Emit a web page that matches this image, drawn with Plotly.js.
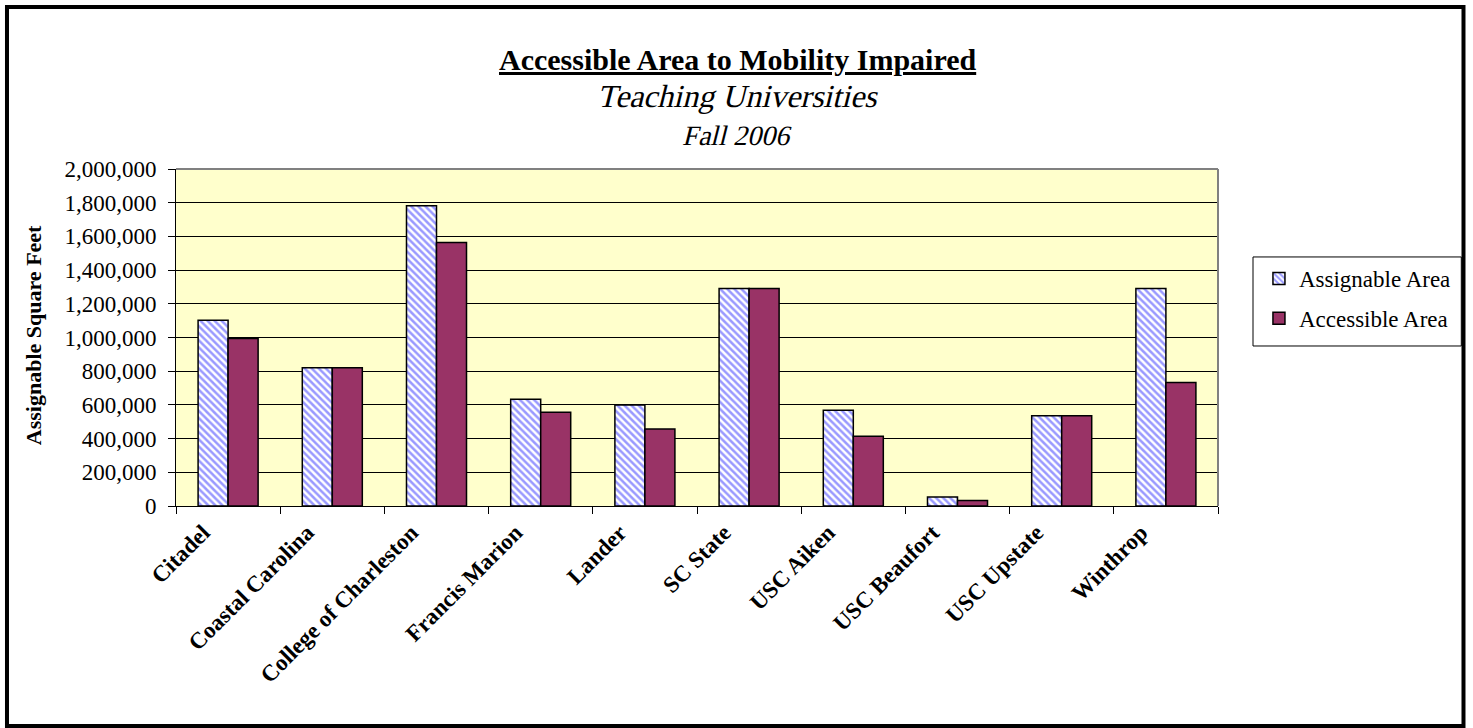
<!DOCTYPE html>
<html>
<head>
<meta charset="utf-8">
<script src="https://cdn.plot.ly/plotly-3.0.1.min.js"></script>
<style>
  @font-face {
    font-family: 'TimesSynth';
    src: local('Liberation Serif'), local('LiberationSerif');
    font-weight: 400;
    font-style: normal;
  }
  html, body { margin: 0; padding: 0; background: #ffffff; }
  #chart { width: 1473px; height: 728px; }
</style>
</head>
<body>
<div id="chart"></div>
<script>
const categories = ['Citadel', 'Coastal Carolina', 'College of Charleston', 'Francis Marion', 'Lander', 'SC State', 'USC Aiken', 'USC Beaufort', 'USC Upstate', 'Winthrop'];
const assignableArea = [1103000, 820000, 1782000, 634000, 600000, 1291000, 568000, 53000, 535000, 1291000];
const accessibleArea = [994000, 820000, 1564000, 556000, 457000, 1291000, 414000, 32000, 535000, 733000];
const seriesNames = ['Assignable Area', 'Accessible Area'];
const yTickValues = [0, 200000, 400000, 600000, 800000, 1000000, 1200000, 1400000, 1600000, 1800000, 2000000];

const serif = 'Liberation Serif';
const italicSerif = 'TimesSynth, Liberation Serif';

const traces = [
  {
    type: 'bar',
    name: seriesNames[0],
    x: categories,
    y: assignableArea,
    legendgroup: 'a',
    marker: {
      color: '#ffffff',
      line: { color: '#000000', width: 1.5 },
      pattern: { shape: '\\', fgcolor: '#9999ff', bgcolor: '#ffffff', size: 5, solidity: 0.5, fillmode: 'replace' }
    },
    hoverinfo: 'x+y'
  },
  {
    type: 'bar',
    name: seriesNames[1],
    x: categories,
    y: accessibleArea,
    legendgroup: 'b',
    marker: {
      color: '#993366',
      line: { color: '#000000', width: 1.5 }
    },
    hoverinfo: 'x+y'
  }
];

const layout = {
  width: 1473,
  height: 728,
  margin: { l: 176, r: 255, t: 169, b: 222, pad: 0 },
  paper_bgcolor: '#ffffff',
  plot_bgcolor: '#ffffcc',
  font: { family: serif, color: '#000000', size: 21 },
  barmode: 'group',
  bargap: 0.424,
  bargroupgap: 0,
  showlegend: true,
  legend: {
    x: 1.0393, y: 0.739, xanchor: 'left', yanchor: 'top',
    bgcolor: 'rgba(0,0,0,0)', borderwidth: 0,
    font: { family: serif, size: 23, color: '#000000' },
    traceorder: 'grouped', tracegroupgap: 7
  },
  xaxis: {
    type: 'category',
    tickson: 'boundaries',
    ticks: 'outside', ticklen: 7, tickcolor: '#000000', tickwidth: 1,
    tickangle: -45,
    ticklabelshift: -25,
    ticklabelstandoff: 3,
    tickfont: { family: serif, size: 23, color: '#000000', weight: 'bold' },
    showline: true, linecolor: '#000000', linewidth: 1,
    showgrid: false, zeroline: false, fixedrange: true
  },
  yaxis: {
    range: [0, 2000000],
    tickvals: yTickValues,
    tickformat: ',d',
    ticks: 'outside', ticklen: 7, tickcolor: '#000000', tickwidth: 1,
    ticklabelstandoff: 7,
    tickfont: { family: serif, size: 23, color: '#000000' },
    showline: true, linecolor: '#000000', linewidth: 1,
    showgrid: true, gridcolor: '#000000', gridwidth: 1,
    zeroline: false, fixedrange: true
  },
  separators: '.,',
  annotations: [
    { text: '<u>Accessible Area to Mobility Impaired</u>', xref: 'paper', yref: 'paper', x: 0.5384, y: 1.3264, xanchor: 'center', yanchor: 'middle', showarrow: false, font: { family: serif, size: 30, color: '#000000', weight: 'bold' } },
    { text: 'Teaching Universities', xref: 'paper', yref: 'paper', x: 0.5384, y: 1.2166, xanchor: 'center', yanchor: 'middle', showarrow: false, font: { family: italicSerif, size: 32, color: '#000000', style: 'italic' } },
    { text: 'Fall 2006', xref: 'paper', yref: 'paper', x: 0.5384, y: 1.1008, xanchor: 'center', yanchor: 'middle', showarrow: false, font: { family: italicSerif, size: 28, color: '#000000', style: 'italic' } },
    { text: 'Assignable Square Feet', xref: 'paper', yref: 'paper', x: -0.1372, y: 0.507, xanchor: 'center', yanchor: 'middle', textangle: -90, showarrow: false, font: { family: serif, size: 22, color: '#000000', weight: 'bold' } }
  ],
  shapes: [
    { type: 'line', xref: 'paper', yref: 'paper', x0: 0, x1: 1, y0: 1, y1: 1, line: { color: '#808080', width: 2 }, layer: 'above' },
    { type: 'line', xref: 'paper', yref: 'paper', x0: 1, x1: 1, y0: 0, y1: 1, line: { color: '#808080', width: 2 }, layer: 'above' },
    { type: 'rect', xref: 'paper', yref: 'paper', x0: 1.0336, x1: 1.2335, y0: 0.4748, y1: 0.739, line: { color: '#000000', width: 1 }, fillcolor: '#ffffff', layer: 'above' },
    { type: 'rect', xref: 'paper', yref: 'paper', x0: -0.1622, x1: 1.2356, y0: -0.6528, y1: 1.4807, line: { color: '#000000', width: 4 }, fillcolor: 'rgba(0,0,0,0)', layer: 'above' }
  ]
};

document.fonts.load('italic 30px TimesSynth').catch(function () {}).then(function () {
  Plotly.newPlot('chart', traces, layout, { displayModeBar: false, staticPlot: true });
});
</script>
</body>
</html>
